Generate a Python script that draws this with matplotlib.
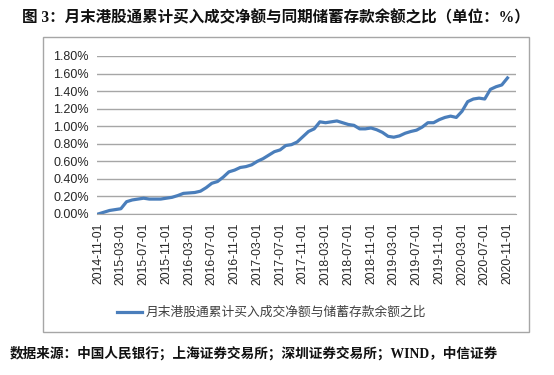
import matplotlib
matplotlib.use("Agg")
import matplotlib.pyplot as plt
from matplotlib.patches import Rectangle
import numpy as np

# Monthly data 2014-11 .. 2020-11 (ratio in %)
months = [f"{2014 + (10 + i) // 12}-{(10 + i) % 12 + 1:02d}-01" for i in range(73)]
values = [0.00, 0.02, 0.04, 0.05, 0.06, 0.14, 0.16, 0.17, 0.18, 0.17,
          0.17, 0.17, 0.18, 0.19, 0.21, 0.235, 0.24, 0.245, 0.26, 0.30,
          0.35, 0.37, 0.42, 0.48, 0.50, 0.53, 0.54, 0.56, 0.60, 0.63,
          0.67, 0.71, 0.73, 0.78, 0.79, 0.82, 0.88, 0.94, 0.97, 1.05,
          1.04, 1.05, 1.06, 1.04, 1.02, 1.01, 0.97, 0.97, 0.98, 0.96,
          0.93, 0.885, 0.875, 0.89, 0.92, 0.94, 0.955, 0.99, 1.04, 1.04,
          1.075, 1.10, 1.115, 1.10, 1.17, 1.28, 1.31, 1.32, 1.31, 1.42,
          1.45, 1.47, 1.55]
yticks = [0.0, 0.2, 0.4, 0.6, 0.8, 1.0, 1.2, 1.4, 1.6, 1.8]
title = "图 3：月末港股通累计买入成交净额与同期储蓄存款余额之比（单位：%）"
series_name = "月末港股通累计买入成交净额与储蓄存款余额之比"
source = "数据来源：中国人民银行；上海证券交易所；深圳证券交易所；WIND，中信证券"

W, H = 554, 375
fig = plt.figure(figsize=(W / 100, H / 100), dpi=100)

def px(x0, y0, x1, y1):
    return [x0 / W, 1 - y1 / H, (x1 - x0) / W, (y1 - y0) / H]

# outer chart frame
fig.patches.append(Rectangle((43 / W, 1 - 332 / H), (529 - 43) / W, (332 - 37) / H,
                             transform=fig.transFigure, fill=False,
                             edgecolor="#A6A6A6", linewidth=1.0))

ax = fig.add_axes(px(97, 56, 516, 214))
x = np.arange(len(values))
ax.plot(x, values, color="#4A7EBB", linewidth=2.3, solid_joinstyle="round")
ax.set_ylim(0, 1.8)
ax.set_xlim(-0.2, 73.5)
ax.set_yticks(yticks)
ax.set_yticklabels([f"{v:.2f}%" for v in yticks], family=["Liberation Sans"], fontsize=9, color="#262626")
tick_idx = list(range(0, 73, 4))
ax.set_xticks(tick_idx)
ax.set_xticklabels([months[i] for i in tick_idx], rotation=90, family=["Liberation Sans"],
                   fontsize=8.8, color="#262626")
ax.grid(axis="y", color="#A6A6A6", linewidth=1.0)
ax.set_axisbelow(True)
for s in ["left", "right", "top"]:
    ax.spines[s].set_visible(False)
ax.spines["bottom"].set_color("#A6A6A6")
ax.tick_params(axis="both", length=0, pad=6)

# legend
fig.add_artist(plt.Line2D([117 / W, 142 / W], [1 - 312 / H] * 2, color="#4A7EBB", linewidth=2.3,
                          transform=fig.transFigure))
fig.text(146 / W, 1 - 312 / H, series_name, family=["Noto Sans CJK SC"], fontsize=9.2,
         color="#404040", va="center", ha="left")

fig.text(22 / W, 1 - 18 / H, title, family=["Liberation Serif", "Noto Sans CJK SC"],
         fontweight="bold", fontsize=11.2, va="center", ha="left", color="#111111")
fig.text(10 / W, 1 - 353 / H, source, family=["Liberation Serif", "Noto Sans CJK SC"],
         fontweight="bold", fontsize=9.8, va="center", ha="left", color="#111111")

fig.savefig("out.png", dpi=100)
